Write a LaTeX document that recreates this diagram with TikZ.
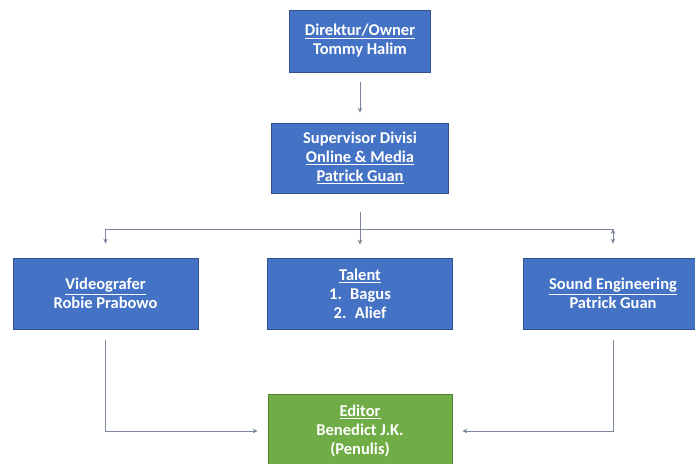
\documentclass[tikz,border=0pt]{standalone}
\usepackage{fontspec}
\setmainfont{Carlito}
\usetikzlibrary{arrows.meta}
\definecolor{boxblue}{HTML}{4472C4}
\definecolor{lineblue}{HTML}{2F528F}
\definecolor{boxgreen}{HTML}{70AD47}
\definecolor{linegreen}{HTML}{507E32}
\definecolor{linkgray}{RGB}{125,135,155}

\begin{document}
\begin{tikzpicture}[x=1pt,y=-1pt,>={Stealth[length=5pt,width=4.5pt]},
		box/.style={rectangle,draw=lineblue,fill=boxblue,text=white,line width=0.8pt,
			align=center,inner sep=0pt,font=\fontsize{16.5}{19}\selectfont\bfseries},
		greenbox/.style={box,draw=linegreen,fill=boxgreen},
		link/.style={draw=linkgray,line width=1pt}]
		\useasboundingbox (0,0) rectangle (695,463);
		% pimpinan
		\node[box,minimum width=141pt,minimum height=62pt] (dir) at (360,41) {\underline{Direktur/Owner}\\Tommy Halim};
		\node[box,minimum width=177pt,minimum height=70pt] (sup) at (360,158) {Supervisor Divisi\\\underline{Online \& Media}\\\underline{Patrick Guan}};
		% tim
		\node[box,minimum width=185pt,minimum height=71pt] (video) at (105.5,293.5) {\underline{Videografer}\\Robie Prabowo};
		\node[box,minimum width=185pt,minimum height=71pt] (talent) at (360,293.5) {\underline{Talent}\\1.\enspace Bagus\\2.\enspace Alief};
		\node[box,minimum width=180pt,minimum height=71pt] (sound) at (613,293.5) {\underline{Sound Engineering}\\Patrick Guan};
		\node[greenbox,minimum width=184pt,minimum height=74pt] (editor) at (360,431) {\underline{Editor}\\Benedict J.K.\\(Penulis)};
		% garis
		\coordinate (bl) at (video.north |- 0,229);
		\coordinate (br) at (sound.north |- 0,229);
		\path[link,->]
		(dir) edge [shorten <=10pt,shorten >=10pt] (sup)
		(sup) edge [shorten <=19pt,shorten >=13pt] (talent)
		(bl) edge [shorten >=14pt] (video)
		(br) edge [shorten >=14pt] (sound);
		\draw[link] (bl) -- (br);
		\draw[link,->,shorten <=11pt,shorten >=10pt] (video) |- (editor);
		\draw[link,->,shorten <=11pt,shorten >=10pt] (sound) |- (editor);
\end{tikzpicture}
\end{document}
